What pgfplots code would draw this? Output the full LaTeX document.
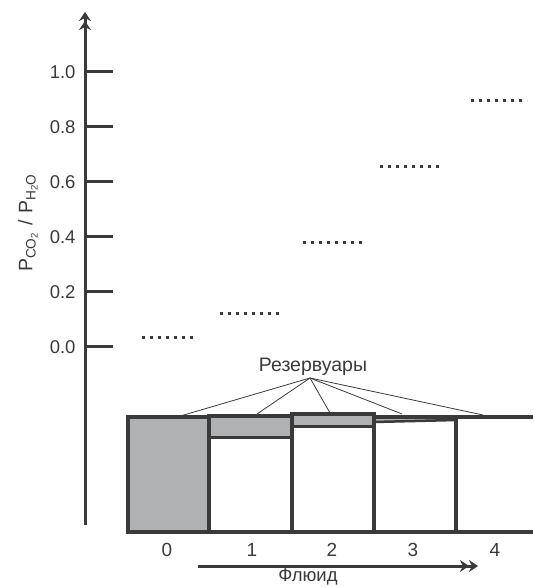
\documentclass[border=0pt]{standalone}
\usepackage{fontspec}
\setmainfont{Liberation Sans}
\usepackage{pgfplots}
\pgfplotsset{compat=1.18}
\usetikzlibrary{arrows.meta}
\definecolor{dark}{RGB}{58,58,58}
\definecolor{fillg}{RGB}{176,177,179}
\begin{document}
\begin{tikzpicture}
\begin{axis}[
  scale only axis, width=533pt, height=513pt,
  xmin=-85, xmax=448, ymin=-0.6473, ymax=1.2182,
  clip=false,
  axis x line=none, axis y line=center,
  axis line style={dark, line width=3pt, -{Stealth[length=9pt,width=12pt,inset=3pt]Stealth[length=9pt,width=12pt,inset=3pt]}},
  ytick={0,0.2,0.4,0.6,0.8,1.0},
  /pgf/number format/fixed, /pgf/number format/fixed zerofill,
  /pgf/number format/precision=1, /pgf/number format/assume math mode=true,
  yticklabel style={font=\fontsize{18.5}{22}\selectfont, text=dark, anchor=east, xshift=-6pt},
  tick align=inside, major tick length=28pt,
  tick style={dark, line width=3pt},
  ylabel={P\textsubscript{CO\textsubscript{2}}\,\,/\,\,P\textsubscript{H\textsubscript{2}O}},
  ylabel style={at={(axis cs:-57,0.451)}, anchor=center, rotate=90, font=\fontsize{19.5}{23}\selectfont, text=dark},
]
% corners of the whole picture
\coordinate (TL) at (axis cs:-85,1.26182);
\coordinate (BR) at (axis cs:448,-0.87273);

% ratio levels (dotted)
\addplot[dark, line width=3pt, dash pattern=on 3pt off 5pt] coordinates {(57,0.036) (112,0.036)};
\addplot[dark, line width=3pt, dash pattern=on 3pt off 5pt] coordinates {(135,0.12) (198,0.12)};
\addplot[dark, line width=3pt, dash pattern=on 3pt off 5pt] coordinates {(218,0.38) (281,0.38)};
\addplot[dark, line width=3pt, dash pattern=on 3pt off 5pt] coordinates {(295,0.658) (356,0.658)};
\addplot[dark, line width=3pt, dash pattern=on 3pt off 5pt] coordinates {(386,0.895) (442,0.895)};

% reservoir fills
\addplot[draw=none, fill=fillg] coordinates {(43,-0.2545) (124,-0.2545) (124,-0.6727) (43,-0.6727)} --cycle;
\addplot[draw=none, fill=fillg] coordinates {(124,-0.2509) (207,-0.2509) (207,-0.3309) (124,-0.3309)} --cycle;
\addplot[draw=none, fill=fillg] coordinates {(207,-0.2436) (289,-0.2436) (289,-0.2909) (207,-0.2909)} --cycle;
\addplot[draw=none, fill=fillg] coordinates {(289,-0.2545) (371,-0.2545) (371,-0.2655) (289,-0.2727)} --cycle;

% reservoir outlines
\addplot[dark, line width=3.5pt] coordinates {(43,-0.2545) (124,-0.2545) (124,-0.6727) (43,-0.6727)} --cycle;
\addplot[dark, line width=3.5pt] coordinates {(124,-0.2509) (207,-0.2509) (207,-0.6727) (124,-0.6727)} --cycle;
\addplot[dark, line width=3.5pt] coordinates {(207,-0.2436) (289,-0.2436) (289,-0.6727) (207,-0.6727)} --cycle;
\addplot[dark, line width=3.5pt] coordinates {(289,-0.2545) (371,-0.2545) (371,-0.6727) (289,-0.6727)} --cycle;
\addplot[dark, line width=3.5pt] coordinates {(448,-0.2545) (371,-0.2545) (371,-0.6727) (448,-0.6727)};
% separators
\addplot[dark, line width=3pt] coordinates {(124,-0.3309) (207,-0.3309)};
\addplot[dark, line width=3pt] coordinates {(207,-0.2909) (289,-0.2909)};
\addplot[dark, line width=2.5pt] coordinates {(289,-0.2727) (371,-0.2655)};

% pointer lines
\addplot[dark, line width=0.8pt] coordinates {(225,-0.1127) (92,-0.2545)};
\addplot[dark, line width=0.8pt] coordinates {(225,-0.1127) (172,-0.2436)};
\addplot[dark, line width=0.8pt] coordinates {(225,-0.1127) (245,-0.2400)};
\addplot[dark, line width=0.8pt] coordinates {(225,-0.1127) (317,-0.2436)};
\addplot[dark, line width=0.8pt] coordinates {(225,-0.1127) (398,-0.2473)};
\node[font=\fontsize{19.5}{23}\selectfont, text=dark, anchor=base, inner sep=0pt] at (axis cs:228,-0.0909) {Резервуары};

% fluid numbers
\node[font=\fontsize{19}{22}\selectfont, text=dark, anchor=base, inner sep=0pt] at (axis cs:82,-0.7636) {0};
\node[font=\fontsize{19}{22}\selectfont, text=dark, anchor=base, inner sep=0pt] at (axis cs:167,-0.7636) {1};
\node[font=\fontsize{19}{22}\selectfont, text=dark, anchor=base, inner sep=0pt] at (axis cs:247,-0.7636) {2};
\node[font=\fontsize{19}{22}\selectfont, text=dark, anchor=base, inner sep=0pt] at (axis cs:328,-0.7636) {3};
\node[font=\fontsize{19}{22}\selectfont, text=dark, anchor=base, inner sep=0pt] at (axis cs:410,-0.7636) {4};
\addplot[dark, line width=3pt, -{Stealth[length=9pt,width=12pt,inset=3pt]Stealth[length=9pt,width=12pt,inset=3pt]}] coordinates {(113,-0.7964) (393,-0.7964)};
\node[font=\fontsize{18.5}{22}\selectfont, text=dark, anchor=base, inner sep=0pt] at (axis cs:223,-0.8545) {Флюид};
\end{axis}
\pgfresetboundingbox
\useasboundingbox (TL) rectangle (BR);
\end{tikzpicture}
\end{document}
